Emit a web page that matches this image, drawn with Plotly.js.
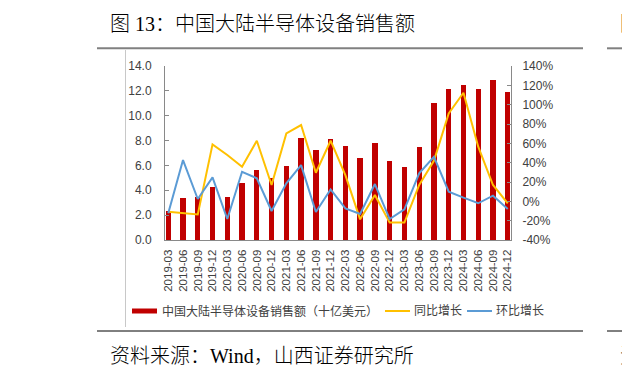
<!DOCTYPE html>
<html>
<head>
<meta charset="utf-8">
<script src="https://cdn.plot.ly/plotly-3.0.1.min.js"></script>
<style>html,body{margin:0;padding:0;background:#fff;}#chart{width:622px;height:379px;}</style>
</head>
<body>
<div id="chart"></div>
<script>
const categories = ["2019-03","2019-06","2019-09","2019-12","2020-03","2020-06","2020-09","2020-12","2021-03","2021-06","2021-09","2021-12","2022-03","2022-06","2022-09","2022-12","2023-03","2023-06","2023-09","2023-12","2024-03","2024-06","2024-09","2024-12"];
const sales = [2.3, 3.4, 3.45, 4.29, 3.49, 4.61, 5.66, 5.01, 5.95, 8.18, 7.28, 8.15, 7.56, 6.6, 7.78, 6.36, 5.85, 7.51, 11.05, 12.12, 12.5, 12.18, 12.9, 11.88];
const yoy = [-10.7, -11.8, -13.5, 58.9, 47.9, 35.8, 62.7, 16.9, 70.3, 78.9, 29.6, 62.7, 27, -18.6, 6.5, -22, -22, 16.9, 42, 91, 112.3, 56.5, 16.9, -2];
const qoq = [-12.4, 42.7, 2.4, 24.8, -18.3, 30.6, 23.8, -10, 18.6, 37.5, -11, 12.4, -7.3, -13.1, 17.9, -18.3, -8.3, 29, 46.1, 10, 3.8, -2, 5.8, -8];
const leftTicks = [0, 2, 4, 6, 8, 10, 12, 14];
const rightTicks = [-40, -20, 0, 20, 40, 60, 80, 100, 120, 140];
const names = ["中国大陆半导体设备销售额（十亿美元）", "同比增长", "环比增长"];
const titleText = "图 13：中国大陆半导体设备销售额";
const sourceText = "资料来源：Wind，山西证券研究所";

const W = 622, H = 379;
const M = {l: 165, r: 111, t: 66, b: 139};
const PW = W - M.l - M.r, PH = H - M.t - M.b;
const px = x => (x - M.l) / PW;
const py = y => (H - M.b - y) / PH;

const RED = "#C00000", YEL = "#FFC000", BLU = "#5B9BD5";
const SANS = "Liberation Sans, Arial, Noto Sans CJK SC, sans-serif";
const CJK = "Liberation Sans, Noto Sans CJK SC, sans-serif";
const SERIF = "Liberation Serif, Noto Sans CJK SC, serif";

const idx = categories.map((c, i) => i);

const traces = [
  {type: "bar", x: idx, y: sales, name: names[0], marker: {color: RED}, width: 0.36, yaxis: "y", hoverinfo: "skip"},
  {type: "scatter", mode: "lines", x: idx, y: yoy, name: names[1], line: {color: YEL, width: 2}, yaxis: "y2"},
  {type: "scatter", mode: "lines", x: idx, y: qoq, name: names[2], line: {color: BLU, width: 2}, yaxis: "y2"}
];

const shapes = [
  {type: "line", xref: "paper", yref: "paper", x0: px(97), x1: px(583), y0: py(48.3), y1: py(48.3), line: {color: "#808080", width: 2}},
  {type: "line", xref: "paper", yref: "paper", x0: px(607), x1: px(623), y0: py(48.3), y1: py(48.3), line: {color: "#808080", width: 2}},
  {type: "line", xref: "paper", yref: "paper", x0: px(97), x1: px(583), y0: py(331), y1: py(331), line: {color: "#000", width: 1}},
  {type: "line", xref: "paper", yref: "paper", x0: px(607), x1: px(623), y0: py(331), y1: py(331), line: {color: "#000", width: 1}},
  {type: "line", xref: "paper", yref: "paper", x0: px(125.5), x1: px(125.5), y0: py(50), y1: py(327), line: {color: "#C8C8C8", width: 1}},
  {type: "rect", xref: "paper", yref: "paper", x0: px(132), x1: px(157), y0: py(313.5), y1: py(308.5), fillcolor: RED, line: {width: 0}},
  {type: "line", xref: "paper", yref: "paper", x0: px(385), x1: px(410), y0: py(311), y1: py(311), line: {color: YEL, width: 2}},
  {type: "line", xref: "paper", yref: "paper", x0: px(467), x1: px(492), y0: py(311), y1: py(311), line: {color: BLU, width: 2}}
];

const annotations = [
  {text: titleText, xref: "paper", yref: "paper", x: px(108), y: py(24), xanchor: "left", yanchor: "middle", showarrow: false, font: {family: SERIF, size: 20, weight: 300, color: "#000"}},
  {text: "图", xref: "paper", yref: "paper", x: px(618), y: py(24), xanchor: "left", yanchor: "middle", showarrow: false, font: {family: SERIF, size: 20, weight: 300, color: "#000"}},
  {text: sourceText, xref: "paper", yref: "paper", x: px(108), y: py(356), xanchor: "left", yanchor: "middle", showarrow: false, font: {family: SERIF, size: 20, weight: 300, color: "#000"}},
  {text: "资", xref: "paper", yref: "paper", x: px(618), y: py(356), xanchor: "left", yanchor: "middle", showarrow: false, font: {family: SERIF, size: 20, weight: 300, color: "#000"}},
  {text: names[0], xref: "paper", yref: "paper", x: px(160), y: py(311), xanchor: "left", yanchor: "middle", showarrow: false, font: {family: CJK, size: 12, color: "#404040"}},
  {text: names[1], xref: "paper", yref: "paper", x: px(412), y: py(311), xanchor: "left", yanchor: "middle", showarrow: false, font: {family: CJK, size: 12, color: "#404040"}},
  {text: names[2], xref: "paper", yref: "paper", x: px(494), y: py(311), xanchor: "left", yanchor: "middle", showarrow: false, font: {family: CJK, size: 12, color: "#404040"}}
];

const layout = {
  width: W, height: H,
  margin: M,
  paper_bgcolor: "#fff", plot_bgcolor: "#fff",
  showlegend: false,
  bargap: 0,
  xaxis: {
    range: [-0.22, 23.22],
    tickmode: "array", tickvals: idx, ticktext: categories,
    tickangle: -90, ticks: "", showgrid: false, zeroline: false,
    showline: true, linecolor: "#898989", linewidth: 1,
    tickfont: {family: SANS, size: 11.5, color: "#404040"},
    ticklabelstandoff: 4,
    fixedrange: true
  },
  yaxis: {
    range: [0, 14], tickmode: "array", tickvals: leftTicks,
    ticktext: leftTicks.map(v => v.toFixed(1)),
    ticks: "inside", ticklen: 4, tickcolor: "#898989",
    showgrid: false, zeroline: false,
    showline: true, linecolor: "#898989", linewidth: 1,
    tickfont: {family: SANS, size: 12, color: "#404040"},
    ticklabelstandoff: 10
  },
  yaxis2: {
    overlaying: "y", side: "right",
    range: [-40, 140], tickmode: "array", tickvals: rightTicks,
    ticktext: rightTicks.map(v => v + "%"),
    ticks: "inside", ticklen: 4, tickcolor: "#898989",
    showgrid: false, zeroline: false,
    showline: true, linecolor: "#898989", linewidth: 1,
    tickfont: {family: SANS, size: 12, color: "#404040"},
    ticklabelstandoff: 8
  },
  shapes: shapes,
  annotations: annotations
};

Plotly.newPlot("chart", traces, layout, {displayModeBar: false, staticPlot: true});
</script>
</body>
</html>
